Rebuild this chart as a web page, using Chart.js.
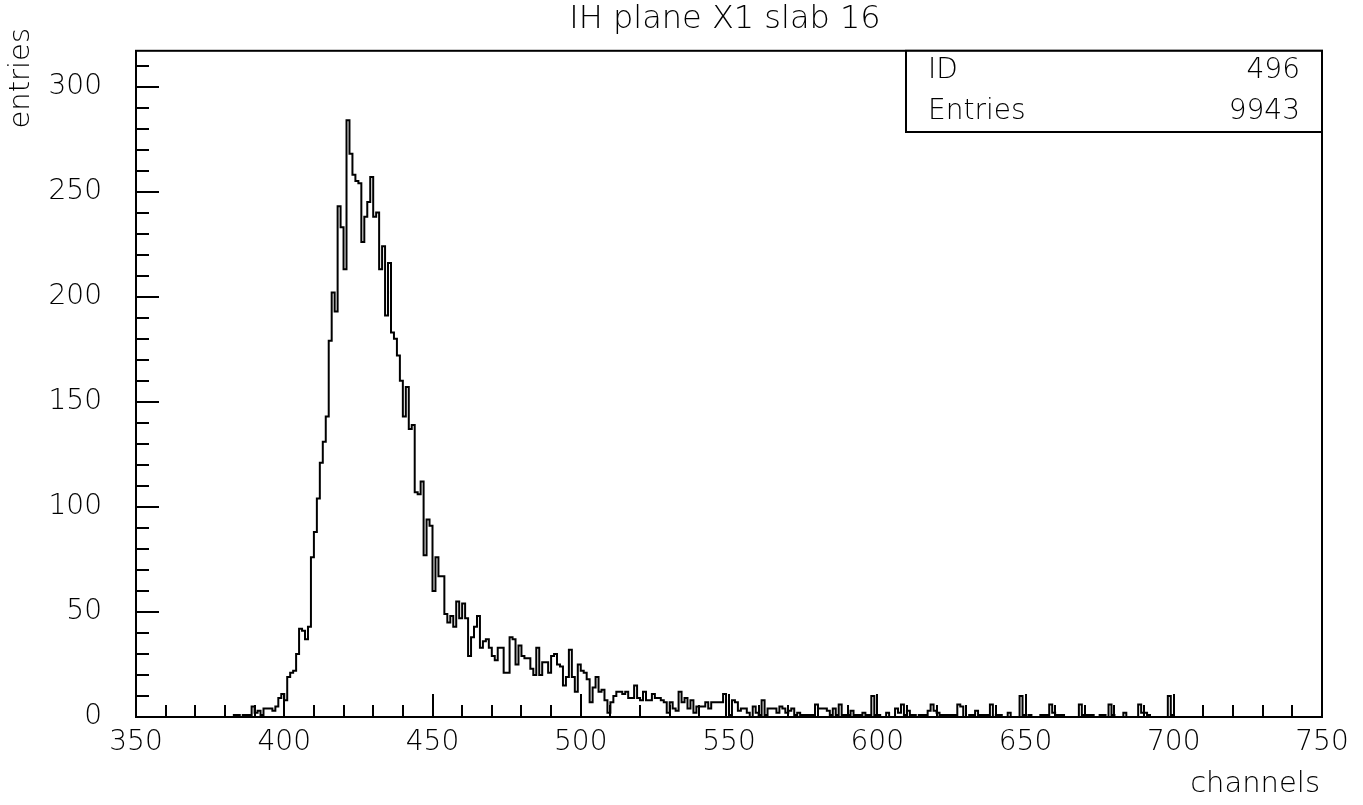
<!DOCTYPE html>
<html>
<head>
<meta charset="utf-8">
<title>IH plane X1 slab 16</title>
<script src="https://cdn.jsdelivr.net/npm/chart.js@4.4.1/dist/chart.umd.min.js"></script>
<style>
  html, body { margin: 0; padding: 0; background: #fff; }
  #histo { display: block; }
</style>
</head>
<body>
<canvas id="histo" width="1363" height="805"></canvas>
<script>
// histogram 496: one bin per channel, first bin below starts at channel 380
const firstChannel = 380;
const counts = [
  0, 0, 0, 0, 1, 1, 0, 1, 1, 1,                       // 380
  5, 2, 3, 1, 4, 4, 4, 3, 5, 9,                       // 390
  11, 8, 19, 21, 22, 30, 42, 41, 37, 43,              // 400
  76, 88, 104, 121, 131, 143, 179, 202, 193, 243,     // 410
  233, 213, 284, 268, 258, 255, 254, 226, 238, 245,   // 420
  257, 238, 240, 213, 224, 191, 216, 183, 180, 172,   // 430
  160, 143, 157, 137, 139, 107, 106, 112, 77, 94,     // 440
  91, 60, 76, 67, 67, 49, 45, 48, 43, 55,             // 450
  47, 54, 47, 29, 38, 43, 48, 33, 36, 37,             // 460
  33, 29, 27, 33, 33, 21, 21, 38, 37, 25,             // 470
  34, 29, 28, 28, 23, 20, 33, 20, 26, 26,             // 480
  21, 29, 30, 25, 24, 15, 19, 32, 19, 12,             // 490
  25, 22, 21, 18, 7, 14, 19, 12, 13, 8,               // 500
  2, 7, 10, 12, 12, 11, 12, 9, 9, 15,                 // 510
  9, 8, 12, 8, 8, 11, 9, 9, 8, 7,                     // 520
  2, 7, 4, 3, 12, 7, 9, 4, 8, 2,                      // 530
  5, 5, 5, 7, 4, 7, 7, 7, 7, 11,                      // 540
  0, 1, 8, 7, 3, 4, 4, 2, 0, 5,                       // 550
  2, 1, 8, 1, 4, 4, 4, 2, 5, 4,                       // 560
  2, 3, 4, 1, 2, 1, 1, 1, 1, 1,                       // 570
  6, 4, 4, 4, 3, 1, 4, 1, 6, 1,                       // 580
  1, 1, 3, 1, 1, 1, 2, 1, 1, 10,                      // 590
  1, 1, 0, 0, 2, 0, 0, 4, 2, 6,                       // 600
  1, 3, 1, 1, 0, 1, 1, 1, 3, 6,                       // 610
  3, 2, 1, 1, 1, 1, 1, 1, 6, 5,                       // 620
  0, 0, 1, 1, 3, 1, 1, 1, 1, 6,                       // 630
  0, 1, 1, 0, 0, 2, 0, 0, 0, 10,                      // 640
  1, 0, 1, 0, 0, 0, 1, 1, 1, 6,                       // 650
  2, 1, 1, 1, 0, 0, 0, 0, 0, 6,                       // 660
  1, 1, 1, 1, 0, 0, 1, 1, 0, 6,                       // 670
  1, 0, 0, 0, 2, 0, 0, 0, 0, 6,                       // 680
  2, 2, 1, 0, 0, 0, 0, 0, 0, 10,                      // 690
  1, 0                                                // 700
];
const xTicks = [350, 400, 450, 500, 550, 600, 650, 700, 750];
const yTicks = [0, 50, 100, 150, 200, 250, 300];
const xRange = [350, 750];
const yRange = [0, 317];
const histoId = 496;
const histoEntries = 9943;

const FONT = '"DejaVu Sans", sans-serif';

// bin low edges + closing edge, drawn as a step outline
const points = counts.map((c, i) => ({ x: firstChannel + i, y: c }));
points.push({ x: firstChannel + counts.length, y: 0 });

const paw = {
  id: 'paw',
  afterDraw(chart) {
    const { ctx, chartArea: a, scales: { x, y } } = chart;
    ctx.save();
    ctx.strokeStyle = '#000';
    ctx.fillStyle = '#000';
    ctx.lineWidth = 2;

    // frame
    ctx.strokeRect(a.left, a.top, a.right - a.left, a.bottom - a.top);

    // inner ticks, every 10, long ones on the labelled values
    ctx.beginPath();
    for (let v = xRange[0]; v <= xRange[1]; v += 10) {
      const px = Math.round(x.getPixelForValue(v));
      const len = xTicks.includes(v) ? 23 : 12;
      ctx.moveTo(px, a.bottom);
      ctx.lineTo(px, a.bottom - len);
    }
    for (let v = yRange[0]; v <= yRange[1]; v += 10) {
      const py = Math.round(y.getPixelForValue(v));
      const len = yTicks.includes(v) ? 23 : 13;
      ctx.moveTo(a.left, py);
      ctx.lineTo(a.left + len, py);
    }
    ctx.stroke();

    // stats box
    const bx = 906, by = a.top, bw = a.right - bx, bh = 132 - a.top;
    ctx.fillStyle = '#fff';
    ctx.fillRect(bx, by, bw, bh);
    ctx.strokeRect(bx, by, bw, bh);
    ctx.fillStyle = '#000';
    ctx.font = '200 28px ' + FONT;
    ctx.textBaseline = 'middle';
    ctx.textAlign = 'left';
    ctx.fillText('ID', 928, 71);
    ctx.fillText('Entries', 928, 112);
    ctx.textAlign = 'right';
    ctx.fillText(String(histoId), 1300, 71);
    ctx.fillText(String(histoEntries), 1300, 112);

    // title
    ctx.font = '200 32px ' + FONT;
    ctx.textAlign = 'center';
    ctx.fillText('IH plane X1 slab 16', 725, 20);

    // axis titles
    ctx.font = '200 29px ' + FONT;
    ctx.textAlign = 'right';
    ctx.fillText('channels', 1320, 784);
    ctx.save();
    ctx.translate(21, 28);
    ctx.rotate(-Math.PI / 2);
    ctx.textAlign = 'right';
    ctx.fillText('entries', 0, 0);
    ctx.restore();

    ctx.restore();
  }
};

new Chart(document.getElementById('histo'), {
  type: 'line',
  data: {
    datasets: [{
      label: 'ID 496',
      data: points,
      stepped: 'after',
      borderColor: '#000',
      borderWidth: 2,
      pointRadius: 0,
      fill: false,
      tension: 0
    }]
  },
  options: {
    responsive: false,
    animation: false,
    events: [],
    layout: { padding: { left: 0, top: 47, right: 41, bottom: 0 } },
    plugins: {
      legend: { display: false },
      title: { display: false },
      tooltip: { enabled: false }
    },
    scales: {
      x: {
        type: 'linear',
        min: xRange[0],
        max: xRange[1],
        border: { display: false },
        grid: { display: false, drawTicks: false },
        afterFit: s => { s.height = 88; },
        afterBuildTicks: s => { s.ticks = xTicks.map(v => ({ value: v })); },
        ticks: {
          color: '#000',
          font: { family: FONT, size: 28, weight: '200' },
          padding: 9,
          autoSkip: false,
          maxRotation: 0
        }
      },
      y: {
        type: 'linear',
        min: yRange[0],
        max: yRange[1],
        border: { display: false },
        grid: { display: false, drawTicks: false },
        afterFit: s => { s.width = 136; },
        afterBuildTicks: s => { s.ticks = yTicks.map(v => ({ value: v })); },
        ticks: {
          color: '#000',
          font: { family: FONT, size: 28, weight: '200' },
          padding: 34,
          autoSkip: false
        }
      }
    }
  },
  plugins: [paw]
});
</script>
</body>
</html>
